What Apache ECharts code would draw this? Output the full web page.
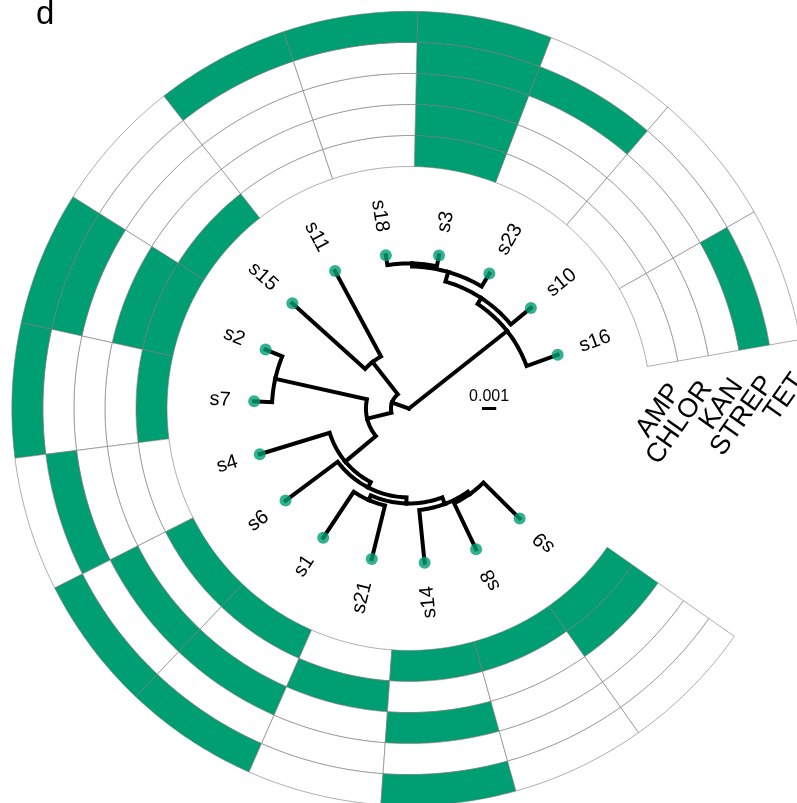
<!DOCTYPE html>
<html>
<head>
<meta charset="utf-8">
<title>Resistance profile on phylogeny</title>
<script src="https://cdn.jsdelivr.net/npm/echarts@6.0.0/dist/echarts.min.js"></script>
<style>
  html, body { margin: 0; padding: 0; background: #ffffff; }
  #chart { width: 797px; height: 803px; }
</style>
</head>
<body>
<div id="chart"></div>
<script>
// ---- tips, in tree order (counter-clockwise) ----
const tips = ['s16','s10','s23','s3','s18','s11','s15','s2','s7','s4','s6','s1','s21','s14','s8','s9'];
const tipParent = ['n1','n2','n3','n4','n4','n6','n6','n8','n8','n9','n10','n12','n12','n13','n14','n14'];
// distance from root (substitutions per site)
const tipDepth = [0.01105,0.01105,0.01098,0.01091,0.01084,0.01091,0.01098,0.01084,0.01084,0.01091,0.01077,0.01084,0.01084,0.01084,0.01091,0.01091];

// ---- internal nodes ----
const innerNodes  = ['root','n1','n2','n3','n4','n5','n6','n7','n8','n9','n10','n11','n12','n13','n14'];
const innerParent = [null,'root','n1','n2','n3','root','n5','n5','n7','n7','n9','n10','n11','n11','n13'];
const innerDepth  = [0,0.00874,0.00923,0.00993,0.01014,0.00126,0.00413,0.00301,0.00958,0.00580,0.00622,0.00664,0.00699,0.00713,0.00734];

// ---- resistance (1 = resistant), one list per antibiotic, in tip order ----
const drugs = ['AMP','CHLOR','KAN','STREP','TET'];
const AMP   = [0,0,0,1,0,0,1,1,1,0,1,1,0,1,1,1];
const CHLOR = [0,0,0,1,0,0,0,1,0,0,0,0,1,0,0,1];
const KAN   = [0,0,0,1,0,0,0,0,0,0,1,1,0,1,0,0];
const STREP = [1,0,1,1,0,0,0,1,0,1,0,0,0,0,0,0];
const TET   = [0,0,0,1,1,1,0,1,1,0,1,1,0,1,0,0];
const resistance = [AMP, CHLOR, KAN, STREP, TET];

// ---- scale bar ----
const scaleBarLength = 0.001;
const scaleBarLabel = '0.001';

// layout constants (radius axis units / tip units)
const R_MAX = 0.02776;
const HEAT_START = 0.01692;
const CELL_W = 0.00217;
const TIP_LABEL_GAP = 0.00165;
const ANGLE_MAX = tips.length * 360 / 315;   // 45 degree opening
const SCALE_R = 0.0051;
const SCALE_A = -0.508;
const DRUG_LABEL_A = -0.27;
const DRUG_LABEL_SHIFT = 0.0007;
const GREEN = '#009E73';
const FONT = '"Liberation Sans", Arial, Helvetica, sans-serif';

// angular position of every node (tips evenly spaced, parents at mean of children)
const theta = {};
tips.forEach((t, i) => { theta[t] = i + 0.5; });
const depthOf = {};
tips.forEach((t, i) => { depthOf[t] = tipDepth[i]; });
innerNodes.forEach((n, i) => { depthOf[n] = innerDepth[i]; });
const parentOf = {};
tips.forEach((t, i) => { parentOf[t] = tipParent[i]; });
innerNodes.forEach((n, i) => { parentOf[n] = innerParent[i]; });
for (let i = innerNodes.length - 1; i >= 0; i--) {
  const n = innerNodes[i];
  const kids = Object.keys(parentOf).filter(k => parentOf[k] === n);
  theta[n] = kids.reduce((s, k) => s + theta[k], 0) / kids.length;
}

// edges: [child depth, child angle, parent depth, parent angle]
const edges = Object.keys(parentOf).filter(k => parentOf[k]).map(k => {
  const p = parentOf[k];
  return [depthOf[k], theta[k], depthOf[p], theta[p]];
});

// heatmap cells: [inner r, start angle, outer r, end angle, value]
const cells = [];
tips.forEach((t, i) => {
  resistance.forEach((col, j) => {
    cells.push([HEAT_START + j * CELL_W, i, HEAT_START + (j + 1) * CELL_W, i + 1, col[i]]);
  });
});

const tipPoints = tips.map((t, i) => [tipDepth[i], theta[t]]);
const tipLabelData = tips.map((t, i) => [tipDepth[i] + TIP_LABEL_GAP, theta[t], i]);
const drugLabelData = drugs.map((d, j) => [HEAT_START + (j + 0.5) * CELL_W + DRUG_LABEL_SHIFT, DRUG_LABEL_A, j]);

function arcPoints(api, r, a0, a1, n) {
  const pts = [];
  for (let k = 0; k <= n; k++) pts.push(api.coord([r, a0 + (a1 - a0) * k / n]));
  return pts;
}

const chart = echarts.init(document.getElementById('chart'), null, { renderer: 'canvas' });

chart.setOption({
  animation: false,
  backgroundColor: '#ffffff',
  polar: { center: [409, 408.5], radius: [0, 397] },
  angleAxis: {
    type: 'value', min: 0, max: ANGLE_MAX, startAngle: 10, clockwise: false,
    axisLine: { show: false }, axisTick: { show: false }, axisLabel: { show: false }, splitLine: { show: false }
  },
  radiusAxis: {
    type: 'value', min: 0, max: R_MAX,
    axisLine: { show: false }, axisTick: { show: false }, axisLabel: { show: false }, splitLine: { show: false }
  },
  graphic: [{
    type: 'text', left: 36, top: -2,
    style: { text: 'd', font: '33px ' + FONT, fill: '#000' }
  }],
  series: [
    {
      // resistance ring
      type: 'custom', coordinateSystem: 'polar', clip: false, silent: true,
      encode: { radius: 0, angle: 1 },
      data: cells,
      renderItem: (params, api) => {
        const r0 = api.value(0), a0 = api.value(1), r1 = api.value(2), a1 = api.value(3);
        const inner = arcPoints(api, r0, a0, a1, 24);
        const outer = arcPoints(api, r1, a1, a0, 24);
        return {
          type: 'polygon',
          shape: { points: inner.concat(outer) },
          style: { fill: api.value(4) ? GREEN : '#ffffff', stroke: '#777777', lineWidth: 0.6 }
        };
      }
    },
    {
      // branches: arc at the parent's distance, then radial segment out to the child
      type: 'custom', coordinateSystem: 'polar', clip: false, silent: true,
      encode: { radius: 0, angle: 1 },
      data: edges,
      renderItem: (params, api) => {
        const rc = api.value(0), ac = api.value(1), rp = api.value(2), ap = api.value(3);
        const n = Math.max(2, Math.ceil(Math.abs(ac - ap) * 16));
        const pts = arcPoints(api, rp, ap, ac, n);
        pts.push(api.coord([rc, ac]));
        return {
          type: 'polyline',
          shape: { points: pts },
          style: { stroke: '#000', lineWidth: 4, fill: null, lineJoin: 'miter', lineCap: 'square' }
        };
      },
      z: 3
    },
    {
      type: 'scatter', coordinateSystem: 'polar', silent: true,
      symbol: 'circle', symbolSize: 12,
      itemStyle: { color: GREEN },
      data: tipPoints,
      z: 4
    },
    {
      // tip labels, turned along the radius
      type: 'custom', coordinateSystem: 'polar', clip: false, silent: true,
      encode: { radius: 0, angle: 1 },
      data: tipLabelData,
      renderItem: (params, api) => {
        const p = api.coord([api.value(0), api.value(1)]);
        const c = api.coord([0, api.value(1)]);
        let ang = Math.atan2(c[1] - p[1], p[0] - c[0]);
        if (ang < 0) ang += 2 * Math.PI;
        const flip = ang > Math.PI / 2;
        return {
          type: 'text', x: p[0], y: p[1],
          rotation: flip ? ang - Math.PI : ang,
          style: {
            text: tips[api.value(2)], fill: '#000', font: '20px ' + FONT,
            align: flip ? 'right' : 'left', verticalAlign: 'middle'
          }
        };
      },
      z: 5
    },
    {
      // antibiotic names under each ring column
      type: 'custom', coordinateSystem: 'polar', clip: false, silent: true,
      encode: { radius: 0, angle: 1 },
      data: drugLabelData,
      renderItem: (params, api) => {
        const p = api.coord([api.value(0), api.value(1)]);
        return {
          type: 'text', x: p[0], y: p[1],
          rotation: 55 * Math.PI / 180,
          style: {
            text: drugs[api.value(2)], fill: '#000', font: '27px ' + FONT,
            align: 'right', verticalAlign: 'middle'
          }
        };
      },
      z: 5
    },
    {
      // scale bar
      type: 'custom', coordinateSystem: 'polar', clip: false, silent: true,
      encode: { radius: 0, angle: 1 },
      data: [[SCALE_R, SCALE_A, SCALE_R + scaleBarLength]],
      renderItem: (params, api) => {
        const a = api.coord([api.value(0), api.value(1)]);
        const b = api.coord([api.value(2), api.value(1)]);
        return {
          type: 'group',
          children: [
            { type: 'line', shape: { x1: a[0], y1: a[1], x2: b[0], y2: b[1] },
              style: { stroke: '#000', lineWidth: 3 } },
            { type: 'text', x: (a[0] + b[0]) / 2, y: a[1] - 12,
              style: { text: scaleBarLabel, fill: '#000', font: '16px ' + FONT,
                       align: 'center', verticalAlign: 'middle' } }
          ]
        };
      },
      z: 5
    }
  ]
});
</script>
</body>
</html>
